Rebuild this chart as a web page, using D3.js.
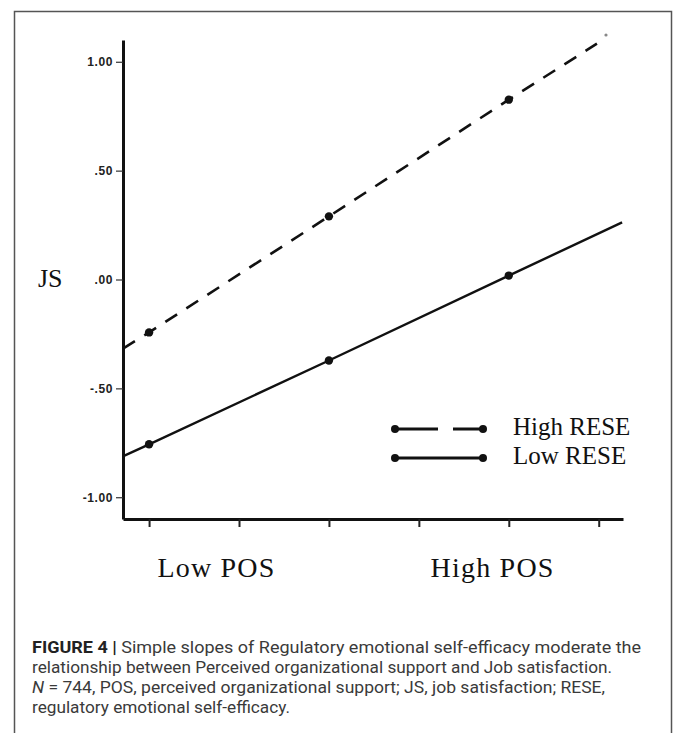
<!DOCTYPE html>
<html>
<head>
<meta charset="utf-8">
<script src="https://cdn.jsdelivr.net/npm/d3@7"></script>
<style>
  html, body { margin: 0; padding: 0; background: #fff; }
  svg { display: block; }
</style>
</head>
<body>
<svg id="fig" width="673" height="733"></svg>
<script>
// y ticks and their printed labels
const yTicks = [1, 0.5, 0, -0.5, -1]
const yTickLabels = ['1.00', '.50', '.00', '-.50', '-1.00']
// x ticks (six unlabeled positions on POS axis)
const xTicks = [1, 2, 3, 4, 5, 6]

// simple slope lines (x in tick units, y in JS units)
const highRESE = [
  {x: 0.71, y: -0.317},
  {x: 1, y: -0.243},
  {x: 3, y: 0.29},
  {x: 5, y: 0.826},
  {x: 5.98, y: 1.083},
]
const lowRESE = [
  {x: 0.72, y: -0.81},
  {x: 1, y: -0.757},
  {x: 3, y: -0.372},
  {x: 5, y: 0.018},
  {x: 6.26, y: 0.262},
]
const highDots = [highRESE[1], highRESE[2], highRESE[3]]
const lowDots = [lowRESE[1], lowRESE[2], lowRESE[3]]

const legend = ['High RESE', 'Low RESE']

const caption = [
  {bold: 'FIGURE 4 | ', rest: 'Simple slopes of Regulatory emotional self-efficacy moderate the', w: 609},
  {bold: '', rest: 'relationship between Perceived organizational support and Job satisfaction.', w: 580},
  {bold: '', italic: 'N', rest: ' = 744, POS, perceived organizational support; JS, job satisfaction; RESE,', w: 573},
  {bold: '', rest: 'regulatory emotional self-efficacy.', w: 258},
]

function draw() {
  const svg = d3.select('svg#fig')

  // outer frame
  svg.append('rect')
      .attr('x', 14.5).attr('y', 11.5)
      .attr('width', 657).attr('height', 740)
      .attr('fill', 'none')
      .attr('stroke', '#555')
      .attr('stroke-width', 1.5)

  const x = d3.scaleLinear()
      .domain([0.71, 6.27])
      .range([123, 623])

  const y = d3.scaleLinear()
      .domain([-1.1, 1.1])
      .range([519, 40])

  const serif = '"Liberation Serif", "Times New Roman", serif'

  // y axis
  const yAxis = svg.append('g')
      .attr('transform', `translate(${x.range()[0]},0)`)
      .call(d3.axisLeft(y).tickValues(yTicks)
        .tickFormat((d, i) => yTickLabels[i]).tickSize(7).tickSizeOuter(0).tickPadding(3))
  yAxis.select('.domain').attr('stroke', '#111').attr('stroke-width', 3)
  yAxis.selectAll('.tick line').attr('stroke', '#333').attr('stroke-width', 1.2)
  yAxis.selectAll('.tick text')
      .attr('font-family', '"Liberation Sans", Arial, sans-serif')
      .attr('font-weight', 'bold')
      .attr('font-size', 12)
      .attr('letter-spacing', 0.6)
      .attr('fill', '#222')

  // x axis
  const xAxis = svg.append('g')
      .attr('transform', `translate(0,${y.range()[0]})`)
      .call(d3.axisBottom(x).tickValues(xTicks).tickFormat('').tickSize(8).tickSizeOuter(0))
  xAxis.select('.domain').attr('stroke', '#111').attr('stroke-width', 3)
  xAxis.selectAll('.tick line').attr('stroke', '#222').attr('stroke-width', 2)

  // axis titles
  svg.append('text')
      .attr('x', 38).attr('y', 287)
      .attr('font-family', serif).attr('font-size', 26)
      .attr('fill', '#111')
      .text('JS')
  svg.append('text')
      .attr('x', x(1.75)).attr('y', 577)
      .attr('text-anchor', 'middle')
      .attr('font-family', serif).attr('font-size', 28)
      .attr('letter-spacing', 1.2)
      .attr('fill', '#111')
      .text('Low POS')
  svg.append('text')
      .attr('x', x(4.82)).attr('y', 577)
      .attr('text-anchor', 'middle')
      .attr('font-family', serif).attr('font-size', 28)
      .attr('letter-spacing', 1.2)
      .attr('fill', '#111')
      .text('High POS')

  const line = d3.line().x(d => x(d.x)).y(d => y(d.y))

  svg.append('path')
      .datum(highRESE)
      .attr('d', line)
      .attr('fill', 'none')
      .attr('stroke', '#111')
      .attr('stroke-width', 2.6)
      .attr('stroke-dasharray', '14,11')

  svg.append('path')
      .datum(lowRESE)
      .attr('d', line)
      .attr('fill', 'none')
      .attr('stroke', '#111')
      .attr('stroke-width', 2.4)

  svg.append('g')
    .selectAll('circle')
    .data(highDots.concat(lowDots))
    .join('circle')
      .attr('cx', d => x(d.x))
      .attr('cy', d => y(d.y))
      .attr('r', 4.2)
      .attr('fill', '#111')

  // small stray dot at the end of the dashed line
  svg.append('circle')
      .attr('cx', 606).attr('cy', 35).attr('r', 1.6).attr('fill', '#888')

  // legend
  const lg = svg.append('g')
  const legendRows = [
    {label: legend[0], y: 429, dash: '43,15,40'},
    {label: legend[1], y: 458, dash: null},
  ]
  legendRows.forEach(r => {
    lg.append('line')
        .attr('x1', 395).attr('x2', 483)
        .attr('y1', r.y).attr('y2', r.y)
        .attr('stroke', '#111').attr('stroke-width', 2.8)
        .attr('stroke-dasharray', r.dash)
    lg.selectAll(null)
      .data([395, 483])
      .join('circle')
        .attr('cx', d => d).attr('cy', r.y).attr('r', 4)
        .attr('fill', '#111')
    lg.append('text')
        .attr('x', 513).attr('y', r.y + 6)
        .attr('font-family', serif).attr('font-size', 25)
        .attr('fill', '#111')
        .text(r.label)
  })

  // caption
  const cap = svg.append('g')
      .attr('font-family', '"Roboto", "Liberation Sans", sans-serif')
      .attr('font-size', 16)
      .attr('fill', '#3a3a3a')
  caption.forEach((c, i) => {
    const t = cap.append('text')
        .attr('x', 32).attr('y', 653 + i * 20)
        .attr('textLength', c.w)
        .attr('lengthAdjust', 'spacingAndGlyphs')
    if (c.bold) t.append('tspan').attr('font-weight', 'bold').attr('fill', '#222').text(c.bold)
    if (c.italic) t.append('tspan').attr('font-style', 'italic').text(c.italic)
    t.append('tspan').text(c.rest)
  })
}

draw()
</script>
</body>
</html>
